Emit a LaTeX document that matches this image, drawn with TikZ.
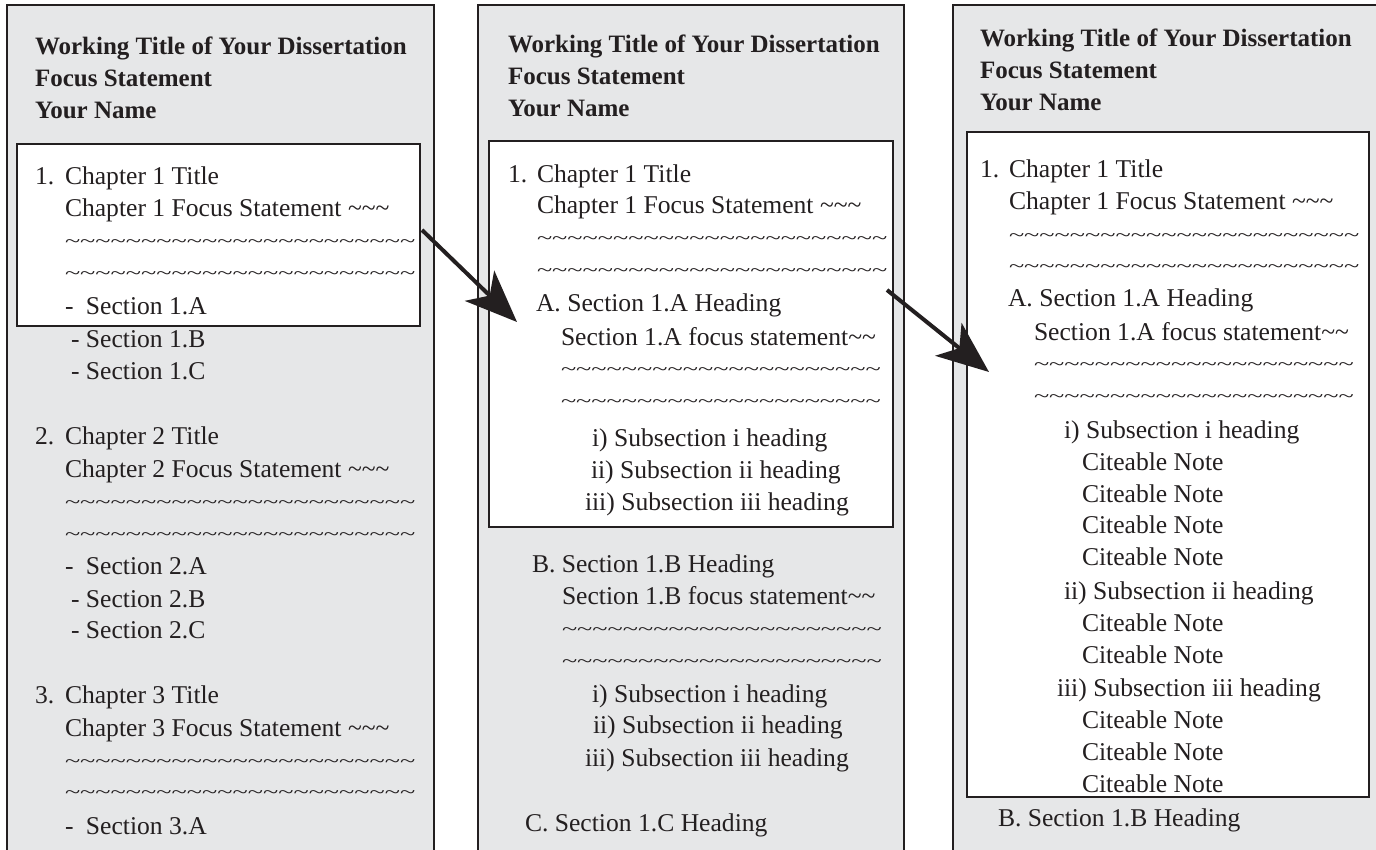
\documentclass[tikz,border=0pt]{standalone}
\usepackage{fontspec}
\setmainfont{Liberation Serif}
\usetikzlibrary{arrows.meta}
\definecolor{ink}{HTML}{231F20}
\definecolor{panelgray}{HTML}{E6E7E8}
\newcommand{\tl}[1]{\foreach \i in {1,...,#1}{\textasciitilde}}
\newcommand{\tline}[1]{\scalebox{1.1}[0.75]{\tl{#1}}}
\begin{document}
\begin{tikzpicture}[x=1pt,y=-1pt,
  border/.style={draw=ink,line width=2.5pt},
  inbox/.style={draw=ink,fill=white,line width=2pt},
  txt/.style={anchor=base west,inner sep=0pt,outer sep=0pt,text=ink,font=\fontsize{25.6}{30}\selectfont},
  btxt/.style={txt,font=\fontsize{25}{30}\selectfont\bfseries},
  tld/.style={txt},
  bigarrow/.style={draw=ink,line width=4pt,-{Stealth[length=52pt,width=42pt,inset=14pt]}}]
\useasboundingbox (0,0) rectangle (1376,850);
% panels
\fill[panelgray] (7,5) rectangle (434,850);
\fill[panelgray] (478,5) rectangle (904,850);
\fill[panelgray] (953,5) rectangle (1376,850);
\draw[border] (7,851) -- (7,5) -- (434,5) -- (434,851);
\draw[border] (478,851) -- (478,5) -- (904,5) -- (904,851);
\draw[border] (953,851) -- (953,5) -- (1377,5);
% inner boxes
\draw[inbox] (17,144) rectangle (420,326);
\draw[inbox] (489,141) rectangle (893,527);
\draw[inbox] (967,132) rectangle (1369,797);
% ---------- panel 1
\node[btxt] (a1) at (35,55) {Working Title of Your Dissertation};
\node[btxt] (a2) at (35,87) {Focus Statement};
\node[btxt] (a3) at (35,119) {Your Name};
\node[txt] (a4n) at (35,185) {1.};
\node[txt] (a4) at (65,185) {Chapter 1 Title};
\node[txt] (a5) at (65,217) {Chapter 1 Focus Statement \tl{3}};
\node[tld] (a6) at (65,248) {\tline{23}};
\node[tld] (a7) at (65,280) {\tline{23}};
\node[txt] (a8) at (65,315) {\makebox[21pt][l]{-}Section 1.A};
\node[txt] (a9) at (65,347) {\makebox[21pt][l]{\hspace{6pt}-}Section 1.B};
\node[txt] (a10) at (65,379) {\makebox[21pt][l]{\hspace{6pt}-}Section 1.C};
\node[txt] (b4n) at (35,444) {2.};
\node[txt] (b4) at (65,444) {Chapter 2 Title};
\node[txt] (b5) at (65,477) {Chapter 2 Focus Statement \tl{3}};
\node[tld] (b6) at (65,508) {\tline{23}};
\node[tld] (b7) at (65,540) {\tline{23}};
\node[txt] (b8) at (65,574) {\makebox[21pt][l]{-}Section 2.A};
\node[txt] (b9) at (65,607) {\makebox[21pt][l]{\hspace{6pt}-}Section 2.B};
\node[txt] (b10) at (65,638) {\makebox[21pt][l]{\hspace{6pt}-}Section 2.C};
\node[txt] (c4n) at (35,703) {3.};
\node[txt] (c4) at (65,703) {Chapter 3 Title};
\node[txt] (c5) at (65,736) {Chapter 3 Focus Statement \tl{3}};
\node[tld] (c6) at (65,767) {\tline{23}};
\node[tld] (c7) at (65,798) {\tline{23}};
\node[txt] (c8) at (65,834) {\makebox[21pt][l]{-}Section 3.A};
% ---------- panel 2
\node[btxt] (d1) at (508,53) {Working Title of Your Dissertation};
\node[btxt] (d2) at (508,85) {Focus Statement};
\node[btxt] (d3) at (508,117) {Your Name};
\node[txt] (d4n) at (508,183) {1.};
\node[txt] (d4) at (537,183) {Chapter 1 Title};
\node[txt] (d5) at (537,214) {Chapter 1 Focus Statement \tl{3}};
\node[tld] (d6) at (537,245) {\tline{23}};
\node[tld] (d7) at (537,277) {\tline{23}};
\node[txt] (d8) at (536,312) {A. Section 1.A Heading};
\node[txt] (d9) at (561,345) {Section 1.A focus statement\tl{2}};
\node[tld] (d10) at (561,375) {\tline{21}};
\node[tld] (d11) at (561,407) {\tline{21}};
\node[txt] (d12) at (592,446) {i) Subsection i heading};
\node[txt] (d13) at (591,478) {ii) Subsection ii heading};
\node[txt] (d14) at (585,510) {iii) Subsection iii heading};
\node[txt] (e1) at (532,572) {B. Section 1.B Heading};
\node[txt] (e2) at (562,604) {Section 1.B focus statement\tl{2}};
\node[tld] (e3) at (562,635) {\tline{21}};
\node[tld] (e4) at (562,667) {\tline{21}};
\node[txt] (e5) at (592,702) {i) Subsection i heading};
\node[txt] (e6) at (593,733) {ii) Subsection ii heading};
\node[txt] (e7) at (585,766) {iii) Subsection iii heading};
\node[txt] (e8) at (525,831) {C. Section 1.C Heading};
% ---------- panel 3
\node[btxt] (f1) at (980,47) {Working Title of Your Dissertation};
\node[btxt] (f2) at (980,79) {Focus Statement};
\node[btxt] (f3) at (980,111) {Your Name};
\node[txt] (f4n) at (980,178) {1.};
\node[txt] (f4) at (1009,178) {Chapter 1 Title};
\node[txt] (f5) at (1009,210) {Chapter 1 Focus Statement \tl{3}};
\node[tld] (f6) at (1009,242) {\tline{23}};
\node[tld] (f7) at (1009,273) {\tline{23}};
\node[txt] (f8) at (1008,307) {A. Section 1.A Heading};
\node[txt] (f9) at (1034,340) {Section 1.A focus statement\tl{2}};
\node[tld] (f10) at (1034,370) {\tline{21}};
\node[tld] (f11) at (1034,402) {\tline{21}};
\node[txt] (f12) at (1064,438) {i) Subsection i heading};
\node[txt] (f13) at (1082,470) {Citeable Note};
\node[txt] (f14) at (1082,502) {Citeable Note};
\node[txt] (f15) at (1082,533) {Citeable Note};
\node[txt] (f16) at (1082,565) {Citeable Note};
\node[txt] (f17) at (1064,599) {ii) Subsection ii heading};
\node[txt] (f18) at (1082,631) {Citeable Note};
\node[txt] (f19) at (1082,663) {Citeable Note};
\node[txt] (f20) at (1057,696) {iii) Subsection iii heading};
\node[txt] (f21) at (1082,728) {Citeable Note};
\node[txt] (f22) at (1082,760) {Citeable Note};
\node[txt] (f23) at (1082,792) {Citeable Note};
\node[txt] (f24) at (998,826) {B. Section 1.B Heading};
% ---------- arrows
\coordinate (s1) at (422,230);
\coordinate (t1) at (517,322);
\coordinate (s2) at (887,290);
\coordinate (t2) at (989,372);
\draw[bigarrow] (s1) -- (t1);
\draw[bigarrow] (s2) -- (t2);
\end{tikzpicture}
\end{document}
